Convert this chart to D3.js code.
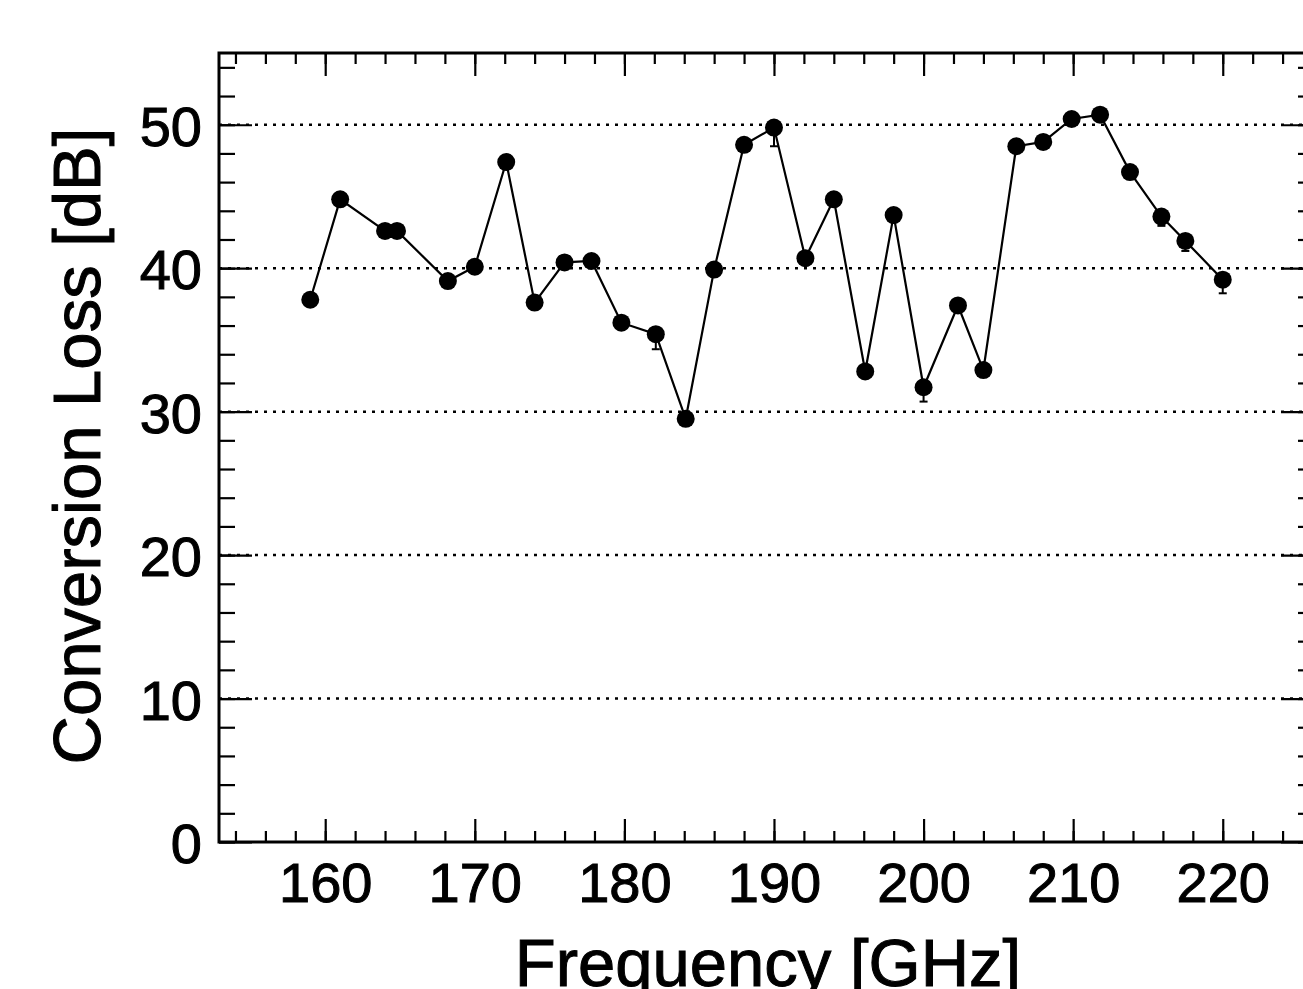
<!DOCTYPE html>
<html>
<head>
<meta charset="utf-8">
<script src="https://cdn.jsdelivr.net/npm/d3@7"></script>
<style>
  body { margin: 0; background: #fff; }
  svg { display: block; }
  text { font-family: "Liberation Sans", Arial, Helvetica, sans-serif; fill: #000; stroke: #000; stroke-width: 1px; }
</style>
</head>
<body>
<svg id="chart" width="1303" height="989"></svg>
<script>
// measured points (frequency in GHz, conversion loss in dB)
var freq = [159.0, 161.0, 164.0, 164.8, 168.2, 170.0, 172.1, 174.0, 176.0, 177.8,
            179.8, 182.1, 184.1, 186.0, 188.0, 190.0, 192.1, 194.0, 196.1, 198.0,
            200.0, 202.3, 204.0, 206.2, 208.0, 209.9, 211.8, 213.8, 215.9, 217.5, 220.0];
var loss = [37.8, 44.8, 42.6, 42.6, 39.1, 40.1, 47.4, 37.6, 40.4, 40.5,
            36.2, 35.4, 29.5, 39.9, 48.6, 49.8, 40.7, 44.8, 32.8, 43.7,
            31.7, 37.4, 32.9, 48.5, 48.8, 50.4, 50.7, 46.7, 43.6, 41.9, 39.2];
// lower error (only the visible ones)
var errLow = [0, 0, 0, 0, 0, 0, 0, 0, 0, 0,
              0, 1.05, 0, 0, 0, 1.3, 0, 0, 0, 0,
              1.0, 0, 0, 0, 0, 0, 0, 0, 0.65, 0.7, 0.95];

var xMajor = [160, 170, 180, 190, 200, 210, 220];
var xMinor = d3.range(154, 227, 2);
var yMajor = [0, 10, 20, 30, 40, 50];
var yMinor = d3.range(0, 56, 2);
var gridVals = [10, 20, 30, 40, 50];

var svg = d3.select("#chart");

// frame edges (px) - "top" is taken by window.top so use other names
var frameL = 219, frameR = 1314, frameT = 53, frameB = 842;

var x = d3.scaleLinear().domain([152.9, 226.1]).range([frameL, frameR]);
var y = d3.scaleLinear().domain([0, 55]).range([frameB, frameT]);

var points = freq.map(function(f, i) {
    return {f: f, v: loss[i], e: errLow[i]};
});

// dotted grid
svg.append("g").selectAll("line")
    .data(gridVals)
    .join("line")
    .attr("x1", frameL).attr("x2", frameR)
    .attr("y1", function(d) { return y(d); })
    .attr("y2", function(d) { return y(d); })
    .attr("stroke", "#000")
    .attr("stroke-width", 2.5)
    .attr("stroke-dasharray", "3,6");

function styleAxis(g) {
    g.select(".domain").remove();
    g.selectAll(".tick line").attr("stroke", "#000").attr("stroke-width", 2.2);
    g.selectAll(".tick text").style("font-size", "56px");
}

// bottom
svg.append("g").attr("transform", "translate(0," + frameB + ")")
    .call(d3.axisBottom(x).tickValues(xMinor).tickSize(-11).tickFormat(""))
    .call(styleAxis);
svg.append("g").attr("transform", "translate(0," + frameB + ")")
    .call(d3.axisBottom(x).tickValues(xMajor).tickSize(-23).tickPadding(20).tickFormat(d3.format("d")))
    .call(styleAxis);

// top
svg.append("g").attr("transform", "translate(0," + frameT + ")")
    .call(d3.axisTop(x).tickValues(xMinor).tickSize(-11).tickFormat(""))
    .call(styleAxis);
svg.append("g").attr("transform", "translate(0," + frameT + ")")
    .call(d3.axisTop(x).tickValues(xMajor).tickSize(-23).tickFormat(""))
    .call(styleAxis);

// left
svg.append("g").attr("transform", "translate(" + frameL + ",0)")
    .call(d3.axisLeft(y).tickValues(yMinor).tickSize(-16).tickFormat(""))
    .call(styleAxis);
var yAx = svg.append("g").attr("transform", "translate(" + frameL + ",0)")
    .call(d3.axisLeft(y).tickValues(yMajor).tickSize(-33).tickPadding(17).tickFormat(d3.format("d")))
    .call(styleAxis);
yAx.selectAll(".tick text").attr("dy", "0.37em");

// right
svg.append("g").attr("transform", "translate(" + frameR + ",0)")
    .call(d3.axisRight(y).tickValues(yMinor).tickSize(-16).tickFormat(""))
    .call(styleAxis);
svg.append("g").attr("transform", "translate(" + frameR + ",0)")
    .call(d3.axisRight(y).tickValues(yMajor).tickSize(-33).tickFormat(""))
    .call(styleAxis);

// frame
svg.append("rect")
    .attr("x", frameL).attr("y", frameT)
    .attr("width", frameR - frameL).attr("height", frameB - frameT)
    .attr("fill", "none")
    .attr("stroke", "#000")
    .attr("stroke-width", 3);

// connecting line
var line = d3.line()
    .x(function(d) { return x(d.f); })
    .y(function(d) { return y(d.v); });

svg.append("path")
    .datum(points)
    .attr("d", line)
    .attr("fill", "none")
    .attr("stroke", "#000")
    .attr("stroke-width", 2.2);

// error bars (lower side)
var errs = svg.append("g").selectAll("g")
    .data(points.filter(function(d) { return d.e > 0; }))
    .join("g");
errs.append("line")
    .attr("x1", function(d) { return x(d.f); })
    .attr("x2", function(d) { return x(d.f); })
    .attr("y1", function(d) { return y(d.v); })
    .attr("y2", function(d) { return y(d.v - d.e); })
    .attr("stroke", "#000").attr("stroke-width", 2);
errs.append("line")
    .attr("x1", function(d) { return x(d.f) - 4; })
    .attr("x2", function(d) { return x(d.f) + 4; })
    .attr("y1", function(d) { return y(d.v - d.e); })
    .attr("y2", function(d) { return y(d.v - d.e); })
    .attr("stroke", "#000").attr("stroke-width", 2);

// markers
svg.append("g").selectAll("circle")
    .data(points)
    .join("circle")
    .attr("cx", function(d) { return x(d.f); })
    .attr("cy", function(d) { return y(d.v); })
    .attr("r", 9)
    .attr("fill", "#000");

// axis titles
svg.append("text")
    .attr("x", 768).attr("y", 986)
    .attr("text-anchor", "middle")
    .style("font-size", "67px")
    .text("Frequency [GHz]");

svg.append("text")
    .attr("transform", "translate(100,446) rotate(-90)")
    .attr("text-anchor", "middle")
    .style("font-size", "67px")
    .text("Conversion Loss [dB]");
</script>
</body>
</html>
